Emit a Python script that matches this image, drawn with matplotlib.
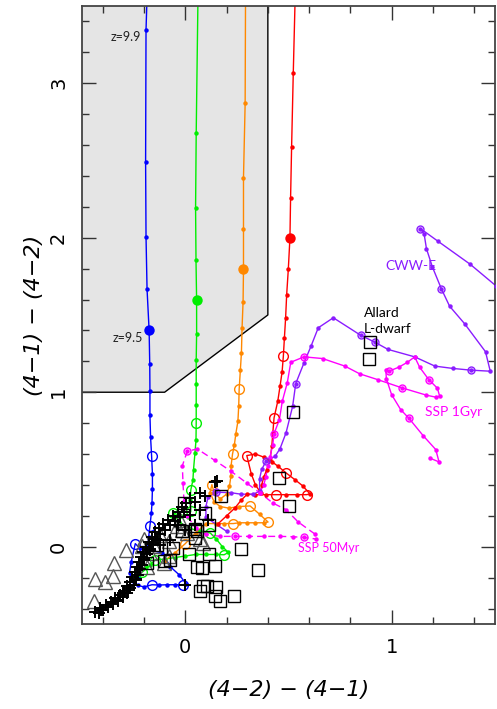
import matplotlib
matplotlib.use('Agg')
import matplotlib.pyplot as plt
from matplotlib.patches import Polygon
from matplotlib.ticker import MultipleLocator

# selection region (shaded)
box_x = [-0.5, -0.1, 0.4, 0.4, -0.5]
box_y = [1.0, 1.0, 1.5, 3.5, 3.5]

# high-z galaxy tracks
blue_x = [-0.184, -0.190, -0.192, -0.190, -0.185, -0.175, -0.172, -0.171, -0.171, -0.168, -0.163, -0.159,
          -0.159, -0.161, -0.164, -0.171, -0.177, -0.184, -0.111, -0.072, -0.030, 0.005, -0.010, -0.048,
          -0.087, -0.126, -0.161, -0.20, -0.23, -0.255, -0.27, -0.262, -0.242, -0.22, -0.21, -0.225]
blue_y = [3.60, 3.346, 2.491, 2.007, 1.666, 1.400, 1.184, 1.006, 0.851, 0.711, 0.588, 0.473,
          0.376, 0.285, 0.220, 0.136, 0.065, -0.019, -0.039, -0.130, -0.181, -0.240, -0.246, -0.246,
          -0.246, -0.248, -0.246, -0.26, -0.25, -0.22, -0.17, -0.10, 0.02, -0.01, -0.10, -0.20]
blue_open = [10, 15, 22, 26, 32]
blue_big = 5

green_x = [0.062, 0.053, 0.050, 0.052, 0.055, 0.055, 0.053, 0.053, 0.053, 0.053, 0.052, 0.047, 0.040,
           0.037, 0.027, 0.023, 0.027, 0.015, -0.02, -0.057, -0.03, 0.02, 0.07, 0.121, 0.15, 0.18, 0.209,
           0.188, 0.15, 0.10, 0.05, 0.0, -0.05, -0.10, -0.146, -0.17, -0.208, -0.19]
green_y = [3.60, 2.675, 2.195, 1.856, 1.594, 1.380, 1.207, 1.056, 0.920, 0.802, 0.689, 0.607, 0.499,
           0.430, 0.369, 0.30, 0.229, 0.19, 0.20, 0.218, 0.16, 0.12, 0.10, 0.089, 0.05, 0.0, -0.037,
           -0.052, -0.05, -0.05, -0.05, -0.06, -0.07, -0.08, -0.084, -0.12, -0.164, -0.13]
green_open = [9, 14, 16, 19, 23, 27, 34, 36]
green_big = 4

orange_x = [0.292, 0.290, 0.282, 0.282, 0.282, 0.280, 0.275, 0.272, 0.267, 0.261, 0.259, 0.255, 0.245,
            0.238, 0.229, 0.222, 0.221, 0.214, 0.20, 0.17, 0.14, 0.129, 0.12, 0.14, 0.17, 0.21, 0.26,
            0.314, 0.36, 0.401, 0.38, 0.34, 0.30, 0.26, 0.233, 0.19, 0.15, 0.10, 0.05, 0.0, -0.05, -0.10]
orange_y = [3.60, 2.869, 2.389, 2.054, 1.795, 1.586, 1.413, 1.255, 1.147, 1.018, 0.914, 0.812, 0.732,
            0.661, 0.601, 0.525, 0.456, 0.391, 0.34, 0.31, 0.35, 0.402, 0.35, 0.29, 0.26, 0.25, 0.26,
            0.264, 0.21, 0.160, 0.155, 0.155, 0.155, 0.155, 0.150, 0.150, 0.150, 0.150, 0.09, 0.02,
            -0.04, -0.09]
orange_open = [9, 14, 21, 27, 29, 34, 39]
orange_big = 4

red_x = [0.533, 0.523, 0.515, 0.510, 0.507, 0.499, 0.491, 0.486, 0.480, 0.475, 0.469, 0.459, 0.448,
         0.430, 0.424, 0.419, 0.411, 0.395, 0.38, 0.37, 0.365, 0.34, 0.32, 0.298, 0.34, 0.38, 0.42,
         0.45, 0.488, 0.531, 0.568, 0.604, 0.588, 0.54, 0.49, 0.44, 0.39, 0.34, 0.30, 0.27, 0.24,
         0.20, 0.16]
red_y = [3.60, 3.063, 2.588, 2.255, 2.001, 1.795, 1.629, 1.482, 1.348, 1.233, 1.132, 1.039, 0.942,
         0.834, 0.737, 0.650, 0.564, 0.499, 0.45, 0.40, 0.35, 0.40, 0.47, 0.59, 0.60, 0.58, 0.55,
         0.52, 0.478, 0.434, 0.395, 0.342, 0.337, 0.337, 0.337, 0.337, 0.337, 0.337, 0.34, 0.30,
         0.25, 0.20, 0.15]
red_open = [9, 13, 23, 28, 32, 35]
red_big = 4

# template tracks
cww_x = [1.506, 1.380, 1.224, 1.139, 1.157, 1.168, 1.197, 1.240, 1.280, 1.353, 1.454, 1.477, 1.382,
         1.296, 1.209, 1.111, 0.982, 0.918, 0.849, 0.717, 0.644, 0.609, 0.575, 0.535, 0.520, 0.488,
         0.459, 0.435, 0.391, 0.37, 0.36, 0.36, 0.33, 0.27, 0.22, 0.15, 0.11, 0.10, 0.10, 0.20]
cww_y = [1.687, 1.828, 1.977, 2.059, 2.022, 1.929, 1.810, 1.670, 1.557, 1.443, 1.262, 1.136, 1.143,
         1.154, 1.169, 1.229, 1.277, 1.324, 1.369, 1.482, 1.417, 1.298, 1.190, 1.056, 0.909, 0.737,
         0.635, 0.585, 0.553, 0.50, 0.44, 0.36, 0.34, 0.34, 0.35, 0.353, 0.32, 0.26, 0.19, 0.10]
cww_open = [3, 7, 12, 17, 18, 23, 28, 35]

ssp1_x = [1.187, 1.229, 1.213, 1.152, 1.084, 1.043, 0.999, 0.974, 0.971, 0.986, 1.034, 1.076, 1.111,
          1.135, 1.179, 1.221, 1.232, 1.213, 1.168, 1.050, 0.931, 0.845, 0.773, 0.665, 0.575, 0.511,
          0.494, 0.470, 0.456, 0.430, 0.424, 0.41, 0.40, 0.39, 0.38, 0.36]
ssp1_y = [0.572, 0.549, 0.629, 0.719, 0.830, 0.888, 0.985, 1.087, 1.147, 1.136, 1.162, 1.194, 1.229,
          1.162, 1.082, 1.026, 0.974, 0.968, 0.981, 1.028, 1.082, 1.119, 1.169, 1.218, 1.229, 1.194,
          1.061, 0.942, 0.823, 0.732, 0.661, 0.58, 0.52, 0.45, 0.40, 0.35]
ssp1_open = [4, 9, 14, 19, 24, 29]

ssp50_x = [0.628, 0.547, 0.488, 0.424, 0.36, 0.30, 0.22, 0.143, 0.058, 0.010, -0.014, -0.011, -0.006,
           0.01, 0.05, 0.10, 0.17, 0.242, 0.31, 0.38, 0.46, 0.52, 0.575, 0.633]
ssp50_y = [0.082, 0.160, 0.240, 0.283, 0.35, 0.41, 0.49, 0.559, 0.633, 0.618, 0.525, 0.413, 0.294,
           0.20, 0.12, 0.08, 0.067, 0.067, 0.067, 0.067, 0.067, 0.065, 0.060, 0.050]
ssp50_open = [9, 17, 22]

# observed objects
sq_x = [0.894, 0.889, 0.520, 0.456, 0.504, 0.354, 0.271, 0.172, 0.097, 0.113, 0.056, 0.079, 0.142,
        0.085, 0.105, 0.150, 0.069, 0.145, 0.169, 0.237, 0.113, 0.016, 0.048, -0.137, -0.105, -0.185,
        0.056, -0.016, -0.008, -0.057, -0.076, 0.047]
sq_y = [1.322, 1.218, 0.873, 0.445, 0.261, -0.149, -0.013, 0.326, 0.218, 0.143, -0.128, -0.138, -0.123,
        -0.253, -0.257, -0.261, -0.285, -0.322, -0.348, -0.322, -0.045, -0.045, 0.056, 0.013, -0.095,
        -0.106, 0.100, 0.100, 0.283, -0.008, -0.084, 0.115]

tri_x = [-0.441, -0.436, -0.388, -0.348, -0.344, -0.288, -0.198, -0.124, -0.101, -0.081, -0.024, -0.040,
         -0.016, 0.072, 0.085, 0.008, -0.153, -0.169, -0.080, -0.185, -0.208]
tri_y = [-0.354, -0.207, -0.225, -0.188, -0.106, -0.024, 0.050, 0.078, -0.106, 0.034, 0.175, 0.132,
         0.110, 0.050, 0.024, 0.089, 0.002, -0.041, -0.063, -0.128, 0.002]

plus_x = [-0.435, -0.411, -0.386, -0.362, -0.338, -0.314, -0.295, -0.280, -0.266, -0.256, -0.242, -0.232,
          -0.222, -0.213, -0.203, -0.188, -0.174, -0.159, -0.145, -0.126, -0.106, -0.082, -0.058, -0.034,
          -0.014, 0.005, 0.024, -0.324, -0.275, -0.237, -0.198, -0.169, -0.130, 0.048, 0.072, 0.143,
          0.097, 0.024, -0.034, -0.072, -0.121, 0.0, 0.048, 0.072, 0.111, 0.153, 0.0, -0.41, -0.30,
          -0.42, -0.40, -0.375, -0.35, -0.325, -0.30, -0.283, -0.268, -0.25, -0.24, -0.228, -0.218,
          -0.208, -0.198, -0.185, -0.17, -0.155, -0.14, -0.12, -0.10, -0.075, -0.05, -0.025, -0.005]
plus_y = [-0.421, -0.395, -0.376, -0.356, -0.331, -0.311, -0.285, -0.253, -0.227, -0.194, -0.162, -0.130,
          -0.097, -0.065, -0.032, 0.0, 0.032, 0.065, 0.097, 0.123, 0.149, 0.175, 0.201, 0.227,
          0.259, 0.285, 0.318, -0.343, -0.279, -0.214, -0.084, -0.019, 0.045, 0.292, 0.348, 0.417,
          0.331, 0.207, 0.143, 0.045, 0.013, 0.110, 0.143, 0.240, 0.175, 0.423, -0.246, -0.41, -0.30,
          -0.43, -0.41, -0.39, -0.37, -0.35, -0.325, -0.30, -0.27, -0.245, -0.21, -0.18, -0.145,
          -0.115, -0.08, -0.05, -0.015, 0.02, 0.05, 0.08, 0.11, 0.14, 0.165, 0.19, 0.225]

fig = plt.figure(figsize=(4.97, 7.09), dpi=100)
ax = fig.add_axes([0.165, 0.1199, 0.831, 0.8717])

ax.add_patch(Polygon(list(zip(box_x, box_y)), closed=True, facecolor='#e5e5e5', edgecolor='none', zorder=0))
ax.plot(box_x[:4], box_y[:4], color='black', lw=1.0, zorder=1)


def track(xs, ys, color, opens, big=None, ls='-', dot_in_open=False):
    ax.plot(xs, ys, color=color, lw=1.0, ls=ls, zorder=2)
    skip = set(opens) if not dot_in_open else set()
    if big is not None:
        skip.add(big)
    dx = [x for i, x in enumerate(xs) if i not in skip]
    dy = [y for i, y in enumerate(ys) if i not in skip]
    ax.plot(dx, dy, 'o', color=color, ms=3.2, mew=0, zorder=3)
    ox = [xs[i] for i in opens]
    oy = [ys[i] for i in opens]
    ax.plot(ox, oy, 'o', mfc='none', mec=color, ms=5 if dot_in_open else 7, mew=1.0, zorder=3)
    if big is not None:
        ax.plot(xs[big], ys[big], 'o', color=color, ms=7.5, mew=0, zorder=3)


track(blue_x, blue_y, '#0000ff', blue_open, blue_big)
track(green_x, green_y, '#00ee00', green_open, green_big)
track(orange_x, orange_y, '#ff8800', orange_open, orange_big)
track(red_x, red_y, '#ff0000', red_open, red_big)
track(cww_x, cww_y, '#8a1cff', cww_open, dot_in_open=True)
track(ssp1_x, ssp1_y, '#ff00ff', ssp1_open, dot_in_open=True)
track(ssp50_x, ssp50_y, '#ff00ff', ssp50_open, ls=(0, (5, 3)), dot_in_open=True)

ax.plot(tri_x, tri_y, '^', mfc='none', mec='#555555', ms=10, mew=1.0, zorder=4)
ax.plot(plus_x, plus_y, '+', color='black', ms=8, mew=1.4, zorder=4)
ax.plot(sq_x, sq_y, 's', mfc='none', mec='black', ms=8.5, mew=1.0, zorder=5)

lab = dict(family='Lato', fontsize=9)
ax.text(-0.29, 3.297, 'z=9.9', ha='center', va='center', color='#222222', **lab)
ax.text(-0.28, 1.352, 'z=9.5', ha='center', va='center', color='#222222', **lab)
ax.text(0.97, 1.82, 'CWW-E', ha='left', va='center', color='#8a1cff', family='Lato', fontsize=10)
ax.text(0.865, 1.51, 'Allard', ha='left', va='center', color='black', family='Lato', fontsize=10)
ax.text(0.865, 1.41, 'L-dwarf', ha='left', va='center', color='black', family='Lato', fontsize=10)
ax.text(1.16, 0.875, 'SSP 1Gyr', ha='left', va='center', color='#ff00ff', family='Lato', fontsize=10)
ax.text(0.546, -0.006, 'SSP 50Myr', ha='left', va='center', color='#ff00ff', **lab)

ax.set_xlim(-0.5, 1.5)
ax.set_ylim(-0.5, 3.5)
ax.set_xticks([0, 1])
ax.set_yticks([0, 1, 2, 3])
ax.xaxis.set_minor_locator(MultipleLocator(0.2))
ax.yaxis.set_minor_locator(MultipleLocator(0.2))
ax.tick_params(which='both', direction='in', top=True, right=True, color='#333333')
ax.tick_params(which='major', length=10, width=1.0, labelsize=14, pad=10)
ax.tick_params(which='minor', length=5, width=1.0)
for t in ax.get_yticklabels():
    t.set_rotation(90)
    t.set_va('center')
for s in ax.spines.values():
    s.set_linewidth(1.3)
    s.set_color('#444444')

ax.set_xlabel('(4\u22122) \u2212 (4\u22121)', fontsize=16, style='italic', labelpad=17)
ax.set_ylabel('(4\u22121) \u2212 (4\u22122)', fontsize=16, style='italic', labelpad=4)

fig.savefig('out.png', dpi=100)
